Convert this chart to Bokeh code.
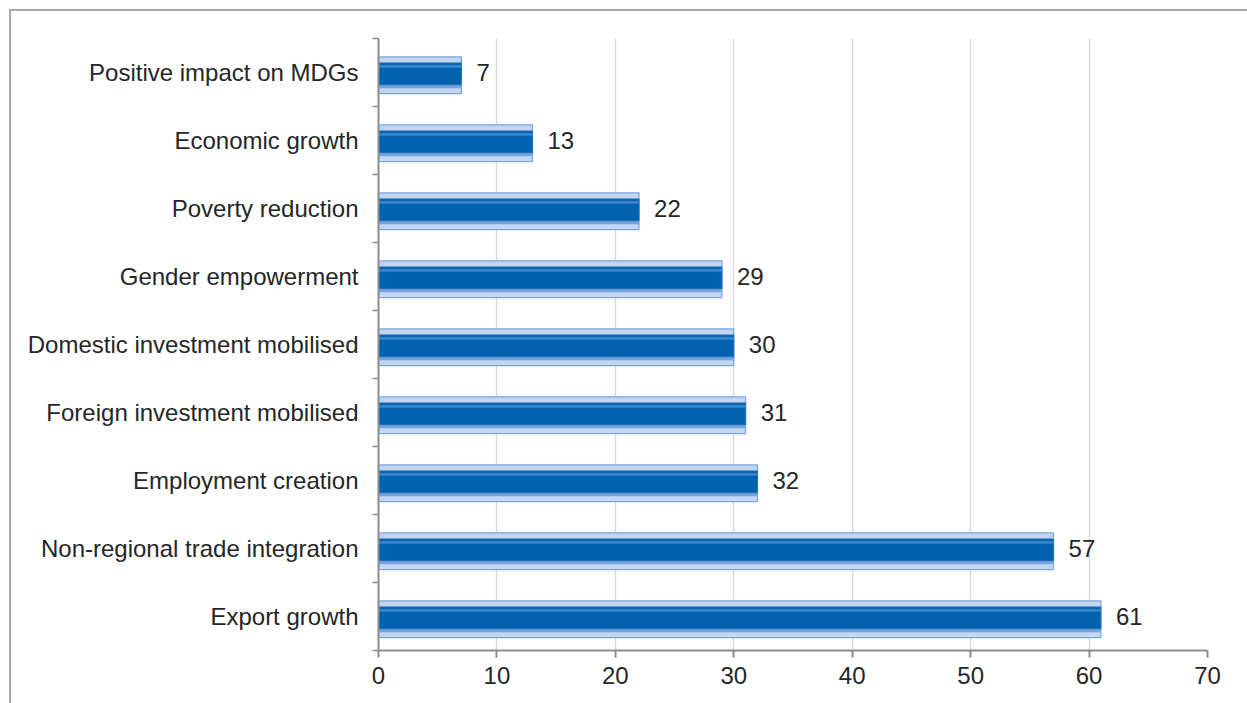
from bokeh.plotting import figure
from bokeh.models import FixedTicker, ColumnDataSource, Range1d
from bokeh.core.properties import value
from bokeh.embed import file_html
from bokeh.resources import INLINE

# Data (bottom to top)
categories = ["Export growth", "Non-regional trade integration", "Employment creation",
              "Foreign investment mobilised", "Domestic investment mobilised",
              "Gender empowerment", "Poverty reduction", "Economic growth",
              "Positive impact on MDGs"]
values = [61, 57, 32, 31, 30, 29, 22, 13, 7]
x_ticks = [0, 10, 20, 30, 40, 50, 60, 70]

FONT = "Liberation Sans"
TXT = "#262626"

idx = list(range(len(categories)))
src = ColumnDataSource(dict(
    y=idx,
    y_out=[i - 0.04 for i in idx],
    y_top=[i + 0.09 for i in idx],
    y_main=[i - 0.02 for i in idx],
    y_bot=[i - 0.19 for i in idx],
    v=values,
    lab=[str(v) for v in values],
))

p = figure(width=1247, height=703, output_backend="svg", toolbar_location=None,
           x_range=Range1d(0, 70), y_range=Range1d(-0.5, len(categories) - 0.5),
           min_border_left=378, min_border_right=40, min_border_top=38, min_border_bottom=53)
p.outline_line_color = None
p.background_fill_color = "white"
p.border_fill_color = None
# outer chart frame (top and left edges visible) drawn as host background
p.styles = {
    "background": ("linear-gradient(#a6a6a6,#a6a6a6) 9px 9px / 100% 2px no-repeat, "
                   "linear-gradient(#a6a6a6,#a6a6a6) 9px 9px / 2px 100% no-repeat, white"),
}

# bars with bevel look
p.hbar(y="y_out", left=0, right="v", height=0.54, source=src,
       fill_color="#c3d5f0", line_color="#7ba6e0", line_width=1.2)
p.hbar(y="y_bot", left=0, right="v", height=0.08, source=src,
       fill_color="#7aa3dc", line_color=None)
p.hbar(y="y_main", left=0, right="v", height=0.32, source=src,
       fill_color="#0063b0", line_color="#1d6fbd", line_width=1)
p.hbar(y="y_top", left=0, right="v", height=0.04, source=src,
       fill_color="#3c82c8", line_color=None)

p.text(x="v", y="y", text="lab", source=src, x_offset=15,
       text_baseline="middle", text_align="left",
       text_font=value(FONT), text_font_size="24px", text_color=TXT)

# grid
p.xgrid.grid_line_color = "#d9d9d9"
p.xgrid.grid_line_width = 1.5
p.ygrid.grid_line_color = None
p.xgrid.ticker = FixedTicker(ticks=x_ticks)

# x axis
xa = p.xaxis[0]
xa.ticker = FixedTicker(ticks=x_ticks)
xa.axis_line_color = "#8c8c8c"
xa.axis_line_width = 2
xa.major_tick_line_color = "#8c8c8c"
xa.major_tick_line_width = 2
xa.major_tick_out = 7
xa.major_tick_in = 0
xa.minor_tick_line_color = None
xa.major_label_text_font = FONT
xa.major_label_text_font_size = "24px"
xa.major_label_text_color = TXT
xa.major_label_standoff = 9

# y axis
ya = p.yaxis[0]
ya.ticker = FixedTicker(ticks=idx, minor_ticks=[i - 0.5 for i in idx] + [len(idx) - 0.5])
ya.major_label_overrides = {i: c for i, c in zip(idx, categories)}
ya.axis_line_color = "#8c8c8c"
ya.axis_line_width = 2
ya.major_tick_line_color = None
ya.major_tick_out = 0
ya.major_tick_in = 0
ya.minor_tick_line_color = "#8c8c8c"
ya.minor_tick_line_width = 1.5
ya.minor_tick_out = 6
ya.minor_tick_in = 0
ya.major_label_text_font = FONT
ya.major_label_text_font_size = "24px"
ya.major_label_text_color = TXT
ya.major_label_standoff = 14

open("out.html", "w").write(file_html(p, INLINE))
